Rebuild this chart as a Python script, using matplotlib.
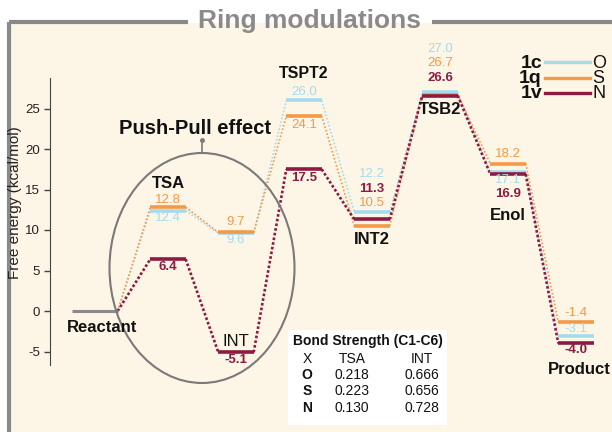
import numpy as np
import matplotlib.pyplot as plt
from matplotlib.patches import Ellipse, Rectangle
from matplotlib.lines import Line2D

plt.rcParams['font.family'] = ['Liberation Sans', 'DejaVu Sans']

# energy profile data (kcal/mol)
states = ['Reactant', 'TSA', 'INT', 'TSPT2', 'INT2', 'TSB2', 'Enol', 'Product']
e_1c = [0.0, 12.4, 9.6, 26.0, 12.2, 27.0, 17.1, -3.1]
e_1q = [0.0, 12.8, 9.7, 24.1, 10.5, 26.7, 18.2, -1.4]
e_1v = [0.0, 6.4, -5.1, 17.5, 11.3, 26.6, 16.9, -4.0]
series_names = ['1c', '1q', '1v']
series_atoms = ['O', 'S', 'N']
yticks = [-5, 0, 5, 10, 15, 20, 25]

# bond strength table
bond_header = ['X', 'TSA', 'INT']
bond_x = ['O', 'S', 'N']
bond_tsa = ['0.218', '0.223', '0.130']
bond_int = ['0.666', '0.656', '0.728']

c_cyan = '#a6dbee'
c_orange = '#f29a48'
c_maroon = '#8c1b43'
cream = '#fdf5e5'
gray = '#8a8a8a'
colors = [c_cyan, c_orange, c_maroon]

# label offsets in pixels (value text relative to its level)
off_1c = [0, -7, -7, 8, 38, 43, -8, 7]
off_1q = [0, 7, 10, -9, 23, 32, 10, 9]
off_1v = [0, -8, -8, -9, 30, 18, -20, -7]

W, H = 612, 432
fig = plt.figure(figsize=(W / 100, H / 100), dpi=100)
fig.patch.set_facecolor('white')

def fx(p):
    return p / W

def fy(p):
    return 1 - p / H

# pixel -> data helpers for layout (x: state index, y: energy)
def px2x(p):
    return (p - 100) / 68.0

def py2y(p):
    return (311 - p) / 8.1

# cream panel and frame
fig.patches.append(Rectangle((fx(9), 0), 1 - fx(9), fy(23), transform=fig.transFigure,
                             facecolor=cream, edgecolor='none', zorder=-10))
for xs, ys in [([fx(9), fx(188)], [fy(22), fy(22)]),
               ([fx(432), 1.0], [fy(22), fy(22)]),
               ([fx(9), fx(9)], [fy(22), 0])]:
    fig.add_artist(Line2D(xs, ys, color=gray, lw=3, solid_capstyle='butt'))
fig.text(fx(310), fy(21), 'Ring modulations', ha='center', va='center',
         fontsize=19, fontweight='bold', color=gray)

ax = fig.add_axes([fx(50), fy(425), fx(612) - fx(50), fy(30) - fy(425)])
ax.set_facecolor('none')
ax.set_xlim(px2x(50), px2x(612))
ax.set_ylim(py2y(425), py2y(30))

x = np.arange(len(states))
hw = 0.26

# connectors then levels
for e, col in zip([e_1c, e_1q, e_1v], colors):
    is_v = col == c_maroon
    for i in range(len(states) - 1):
        ax.plot([x[i] + hw, x[i + 1] - hw], [e[i], e[i + 1]], color=col,
                ls=(0, (1, 0.8)) if is_v else (0, (1, 1.2)),
                lw=1.9 if is_v else 1.2, zorder=2)

ax.hlines(e_1c[0], px2x(72), x[0] + hw, color=gray, lw=2.2, zorder=3)
for e, col in zip([e_1c, e_1q, e_1v], colors):
    ax.hlines(e[1:], x[1:] - hw, x[1:] + hw, color=col, lw=2.6, zorder=3)

# value labels
for e, offs, col in zip([e_1c, e_1q, e_1v], [off_1c, off_1q, off_1v], colors):
    bold = col == c_maroon
    for i in range(1, len(states)):
        ax.annotate(f'{e[i]:.1f}', xy=(x[i], e[i]), xytext=(0, offs[i]),
                    textcoords='offset pixels', ha='center', va='center',
                    fontsize=9.5, color=col, fontweight='bold' if bold else 'normal',
                    zorder=5)

# state labels
label_py = [327, 183, 342, 73, 240, 110, 215, 369]
label_dx = [0.03, 0, 0, 0, 0, 0, 0, 0.05]
label_fs = [12, 12, 12, 11.5, 12, 12, 12, 12]
for i, s in enumerate(states):
    ax.text(x[i] + label_dx[i], py2y(label_py[i]), s, ha='center', va='center',
            fontsize=label_fs[i], fontweight='normal' if s == 'INT' else 'bold',
            color='#111111', zorder=5, clip_on=False)

# push-pull ellipse
ax.add_patch(Ellipse((px2x(202), py2y(268)), 185 / 68.0, 230 / 8.1, fill=False,
                     edgecolor='#7a7a7a', lw=1.5, zorder=4))
ax.plot([px2x(202), px2x(202)], [py2y(153), py2y(140)], color='#7a7a7a', lw=1.2, zorder=4)
ax.plot([px2x(202)], [py2y(140)], 'o', color='#7a7a7a', ms=2.5, zorder=4)
ax.text(px2x(195), py2y(129), 'Push-Pull effect', ha='center', va='center',
        fontsize=14.5, fontweight='bold', color='#111111', zorder=5)

# bond strength table
ax.add_patch(Rectangle((px2x(288), py2y(425)), (447 - 288) / 68.0, (425 - 330) / 8.1,
                       facecolor='white', edgecolor='none', zorder=1))
ax.text(px2x(368), py2y(341), 'Bond Strength (C1-C6)', ha='center', va='center',
        fontsize=10, fontweight='bold', color='#111111', zorder=5)
col_px = [307, 352, 422]
row_py = [359, 375, 391, 408]
rows = [bond_header] + [[a, b, c] for a, b, c in zip(bond_x, bond_tsa, bond_int)]
for r, row in enumerate(rows):
    for c, txt in enumerate(row):
        ax.text(px2x(col_px[c]), py2y(row_py[r]), txt, ha='center', va='center',
                fontsize=10, color='#111111', zorder=5,
                fontweight='bold' if (c == 0 and r > 0) else 'normal')

# y axis
for side in ['top', 'right', 'bottom']:
    ax.spines[side].set_visible(False)
ax.spines['left'].set_bounds(py2y(365), py2y(78))
ax.spines['left'].set_color('#444444')
ax.set_xticks([])
ax.set_yticks(yticks)
ax.set_yticklabels([str(t) for t in yticks])
ax.tick_params(axis='y', direction='out', length=4, width=1, color='#444444',
               labelsize=9.5, labelcolor='#222222', pad=3)
fig.text(fx(15.5), fy(203), 'Free energy (kcal/mol)', rotation=90, ha='center', va='center',
         fontsize=11, color='#222222')

# legend
for k, (name, atom, col) in enumerate(zip(series_names, series_atoms, colors)):
    yy = 63 + 15.5 * k
    fig.text(fx(542), fy(yy), name, ha='right', va='center', fontsize=14,
             fontweight='bold', color='#111111')
    fig.add_artist(Line2D([fx(545), fx(590)], [fy(yy - 1), fy(yy - 1)], color=col, lw=2.4))
    fig.text(fx(592), fy(yy), atom, ha='left', va='center', fontsize=13, color='#111111')

fig.savefig('out.png', dpi=100)
